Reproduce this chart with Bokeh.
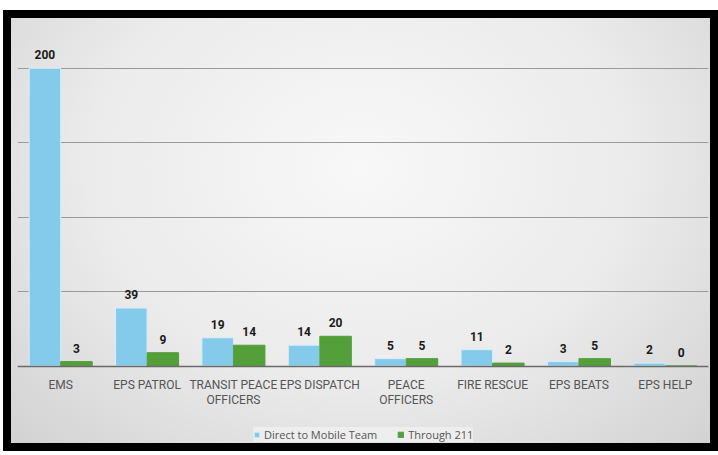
from bokeh.plotting import figure
from bokeh.models import ColumnDataSource, FactorRange, FixedTicker, Legend, LegendItem
from bokeh.core.properties import value
from bokeh.transform import dodge
from bokeh.embed import file_html
from bokeh.resources import INLINE

categories = ["EMS", "EPS PATROL", "TRANSIT PEACE\nOFFICERS", "EPS DISPATCH",
              "PEACE\nOFFICERS", "FIRE RESCUE", "EPS BEATS", "EPS HELP"]
direct_mobile = [200, 39, 19, 14, 5, 11, 3, 2]
through_211 = [3, 9, 14, 20, 5, 2, 5, 0]
series_names = ["Direct to Mobile Team", "Through 211"]
grid_ticks = [0, 50, 100, 150, 200]

BLUE = "#84CAEA"
GREEN = "#559F3B"

src = ColumnDataSource(dict(
    cat=categories,
    direct=direct_mobile,
    t211=through_211,
    direct_lbl=[str(v) for v in direct_mobile],
    t211_lbl=[str(v) for v in through_211],
))

p = figure(
    width=699, height=425,
    x_range=FactorRange(*categories, range_padding=0),
    y_range=(-52, 220),
    output_backend="svg", toolbar_location=None,
    min_border_left=6, min_border_right=2, min_border_top=20, min_border_bottom=0,
)
p.styles = {
    "outline": "8px solid black",
    "margin-top": "18px",
    "margin-left": "11px",
    "background": "radial-gradient(ellipse at 50% 35%, #f8f8f8 0%, #ebebeb 55%, #d2d2d2 100%)",
}
p.border_fill_alpha = 0
p.background_fill_alpha = 0
p.outline_line_color = None

w = 0.365
r1 = p.vbar(x=dodge("cat", -w / 2, range=p.x_range), top="direct", width=w, source=src,
            fill_color=BLUE, line_color="#d8eef8", line_width=1)
r2 = p.vbar(x=dodge("cat", w / 2, range=p.x_range), top="t211", width=w, source=src,
            fill_color=GREEN, line_color=GREEN, line_width=1)

for col, lbl, off in (("direct", "direct_lbl", -w / 2), ("t211", "t211_lbl", w / 2)):
    p.text(x=dodge("cat", off, range=p.x_range), y=col, text=lbl, source=src,
           text_align="center", text_baseline="bottom", y_offset=-9,
           text_font_size="12px", text_font_style="bold", text_color="#1a1a1a",
           text_font=value("Roboto"))

p.yaxis.visible = False
p.ygrid.ticker = FixedTicker(ticks=grid_ticks)
p.ygrid.grid_line_color = "#9a9a9a"
p.ygrid.grid_line_width = 1
p.xgrid.grid_line_color = None

p.xaxis.fixed_location = 0
p.xaxis.axis_line_color = "#6a6a6a"
p.xaxis.axis_line_width = 1.5
p.xaxis.major_tick_line_color = None
p.xaxis.minor_tick_line_color = None
p.xaxis.major_label_text_font = "Roboto"
p.xaxis.major_label_text_font_size = "12px"
p.xaxis.major_label_text_color = "#555555"
p.xaxis.major_label_standoff = 6
p.xaxis.major_label_text_line_height = 1.05

legend = Legend(
    items=[LegendItem(label=series_names[0], renderers=[r1]),
           LegendItem(label=series_names[1], renderers=[r2])],
    orientation="horizontal", location=(236, 1),
    background_fill_color="#f2f2f2", background_fill_alpha=0.7,
    border_line_color=None,
    label_text_font="Open Sans", label_text_font_size="11px",
    label_text_color="#555555",
    glyph_width=7, glyph_height=7, spacing=20, padding=8, margin=0,
    label_standoff=4, label_height=11,
)
p.add_layout(legend, "center")

open("out.html", "w").write(file_html(p, INLINE))
